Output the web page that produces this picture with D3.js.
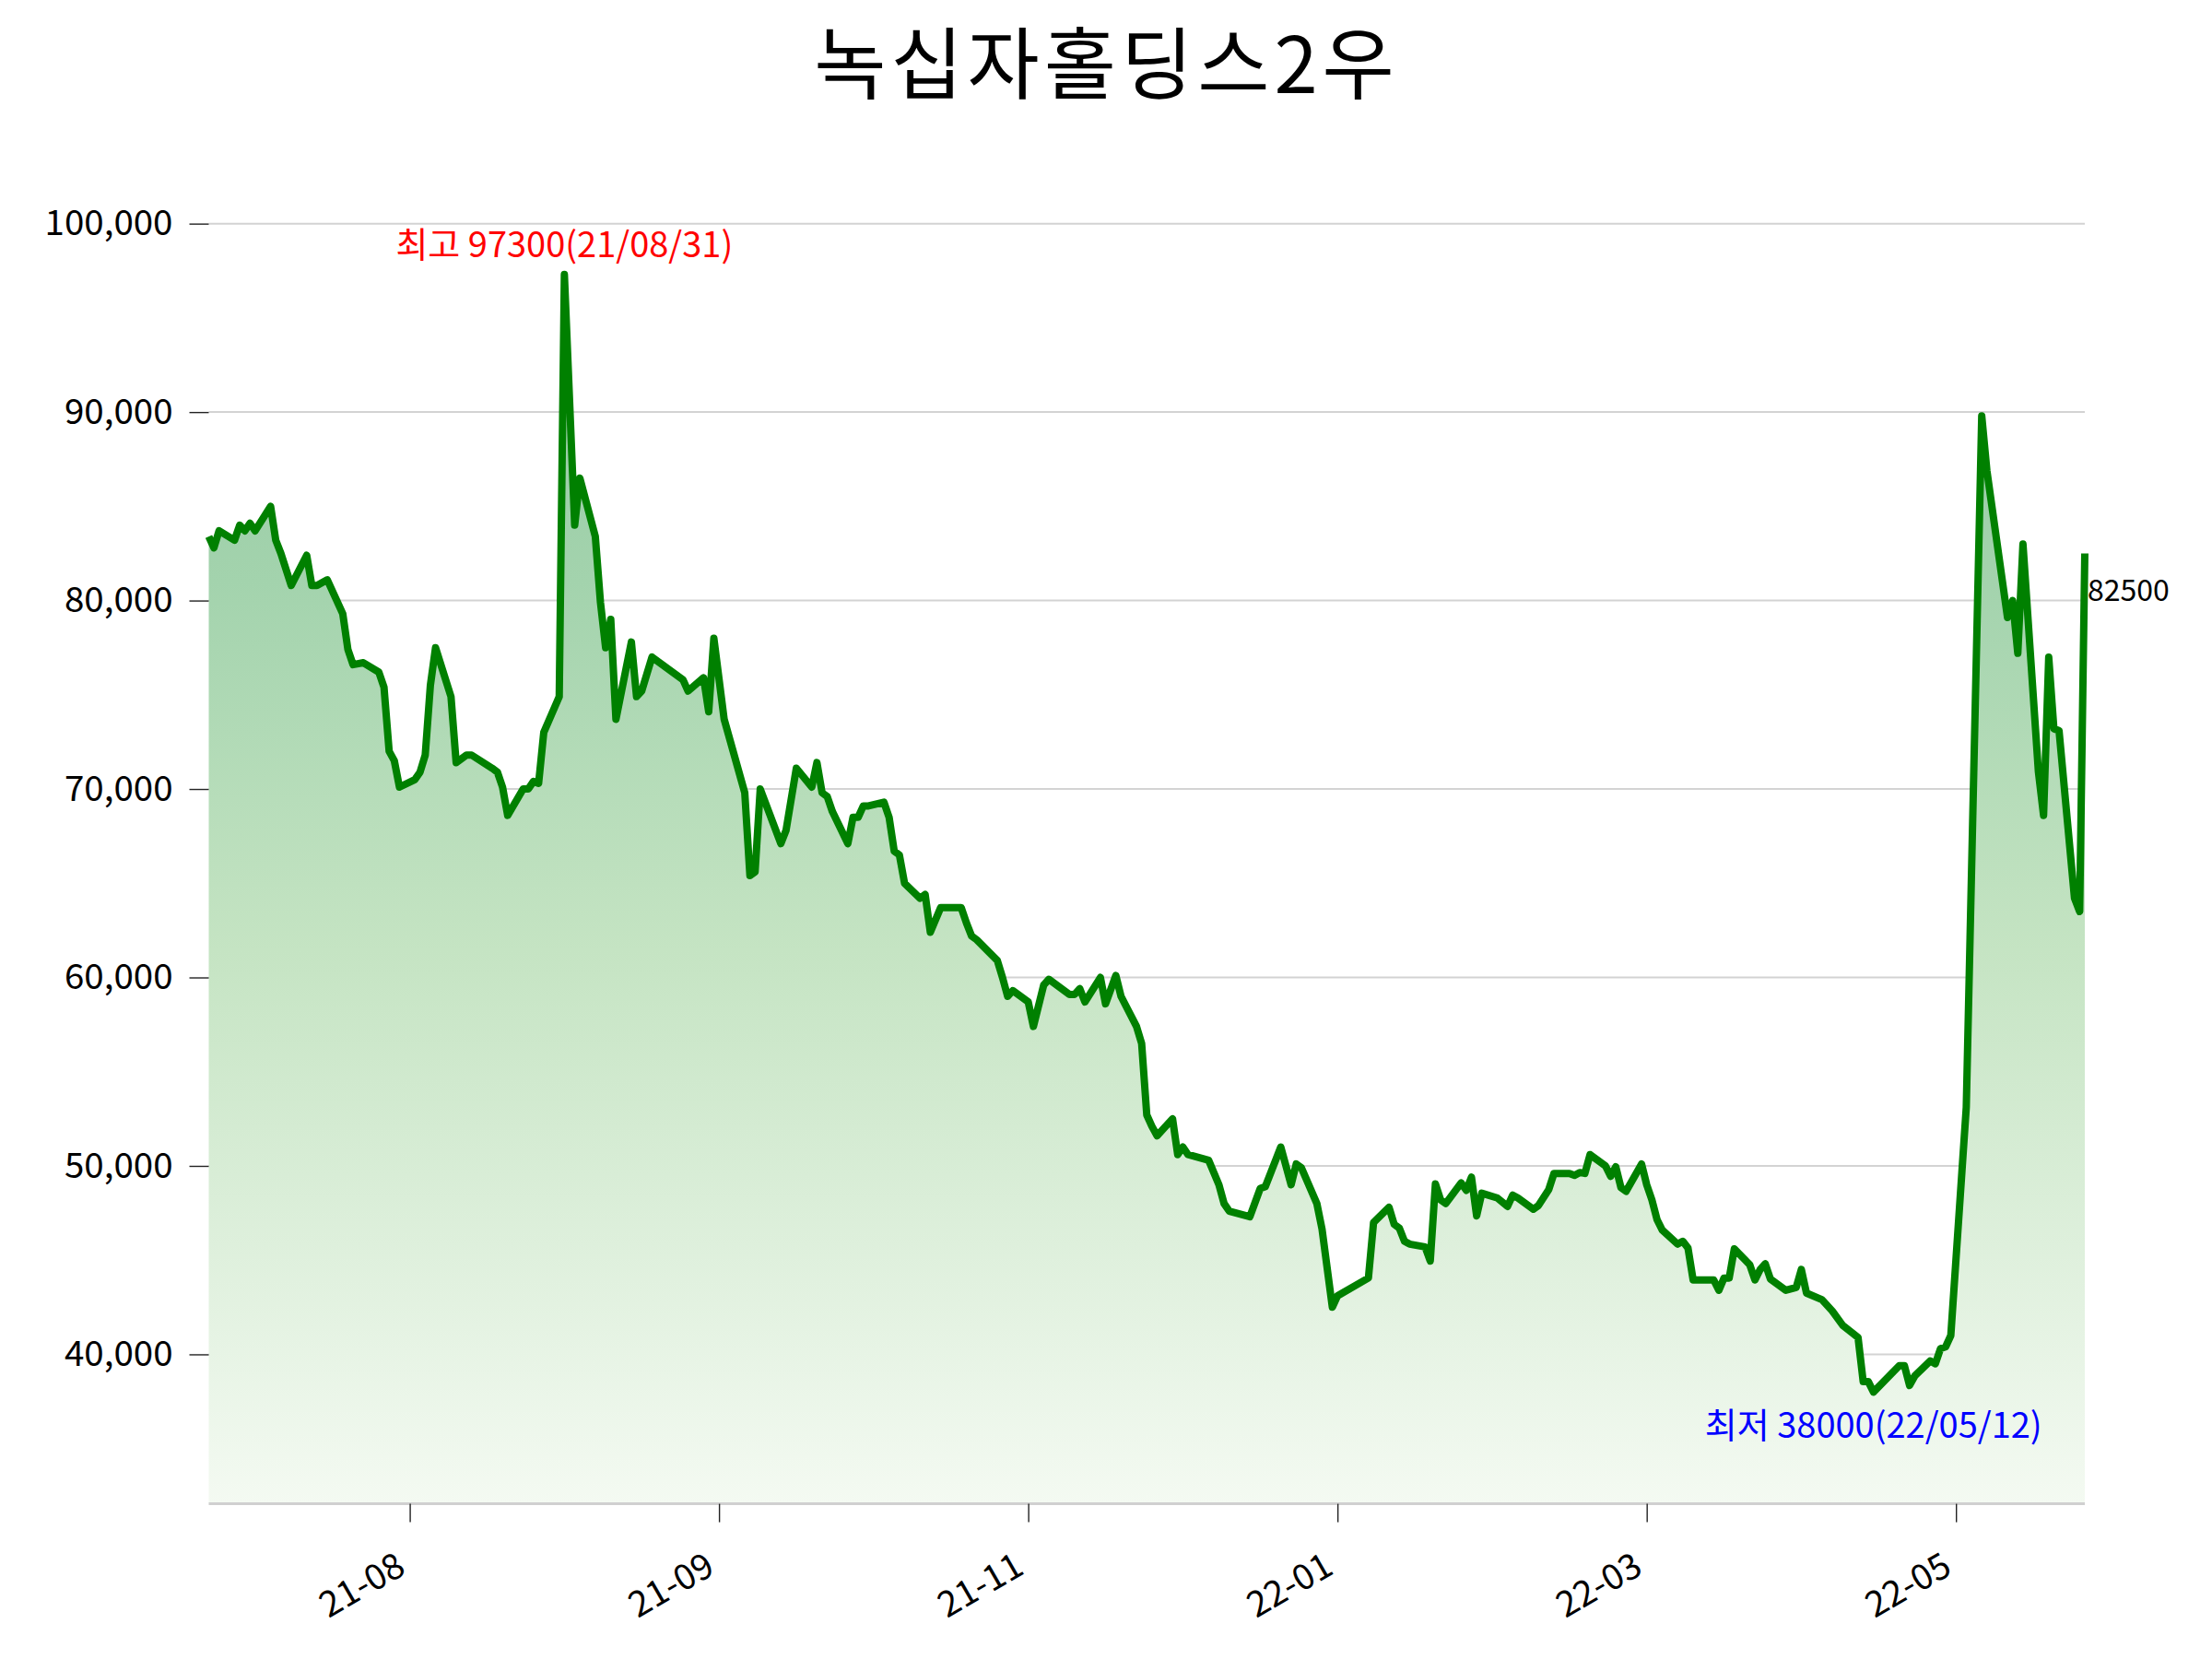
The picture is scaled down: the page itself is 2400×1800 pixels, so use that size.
<!DOCTYPE html>
<html>
<head>
<meta charset="utf-8">
<script src="https://cdn.jsdelivr.net/npm/d3@7"></script>
<style>
  html, body { margin: 0; padding: 0; background: #fff; }
  svg { display: block; }
  text { font-family: "Noto Sans CJK KR", "Noto Sans", sans-serif; }
</style>
</head>
<body>
<svg id="chart" width="2400" height="1800"></svg>
<script>
const title = "녹십자홀딩스2우";

const dates = [
"2021-06-23","2021-06-24","2021-06-25","2021-06-28","2021-06-29","2021-06-30","2021-07-01","2021-07-02",
"2021-07-05","2021-07-06","2021-07-07","2021-07-09","2021-07-12","2021-07-13","2021-07-14","2021-07-16",
"2021-07-19","2021-07-20","2021-07-21","2021-07-23","2021-07-26","2021-07-27","2021-07-28","2021-07-29","2021-07-30",
"2021-08-02","2021-08-03","2021-08-04","2021-08-05","2021-08-06","2021-08-09","2021-08-10","2021-08-12","2021-08-13",
"2021-08-17","2021-08-18","2021-08-19","2021-08-20","2021-08-23","2021-08-24","2021-08-25","2021-08-26","2021-08-27",
"2021-08-30","2021-08-31","2021-09-02","2021-09-03","2021-09-06","2021-09-07","2021-09-08","2021-09-09","2021-09-10",
"2021-09-13","2021-09-14","2021-09-15","2021-09-17","2021-09-23","2021-09-24","2021-09-27","2021-09-28","2021-09-29",
"2021-10-01","2021-10-05","2021-10-06","2021-10-07","2021-10-08","2021-10-12","2021-10-13","2021-10-15",
"2021-10-18","2021-10-19","2021-10-20","2021-10-21","2021-10-22","2021-10-25","2021-10-26","2021-10-27","2021-10-28","2021-10-29",
"2021-11-01","2021-11-02","2021-11-03","2021-11-04","2021-11-05","2021-11-08","2021-11-09","2021-11-10","2021-11-12",
"2021-11-16","2021-11-17","2021-11-18","2021-11-19","2021-11-23","2021-11-24","2021-11-25","2021-11-26","2021-11-29","2021-11-30",
"2021-12-02","2021-12-03","2021-12-07","2021-12-08","2021-12-09","2021-12-10","2021-12-13","2021-12-14","2021-12-16","2021-12-17",
"2021-12-20","2021-12-21","2021-12-22","2021-12-23","2021-12-24","2021-12-27","2021-12-28","2021-12-29","2021-12-30",
"2022-01-03","2022-01-05","2022-01-06","2022-01-07","2022-01-11","2022-01-13","2022-01-14","2022-01-17","2022-01-19",
"2022-01-20","2022-01-21","2022-01-24","2022-01-25","2022-01-27","2022-01-28",
"2022-02-03","2022-02-04","2022-02-07","2022-02-08","2022-02-09","2022-02-10","2022-02-11","2022-02-14","2022-02-15",
"2022-02-16","2022-02-17","2022-02-18","2022-02-21","2022-02-22","2022-02-23","2022-02-24","2022-02-25","2022-02-28",
"2022-03-02","2022-03-03","2022-03-04","2022-03-07","2022-03-08","2022-03-10","2022-03-11","2022-03-14","2022-03-15",
"2022-03-16","2022-03-17","2022-03-18","2022-03-21","2022-03-22","2022-03-23","2022-03-24","2022-03-25","2022-03-28",
"2022-03-29","2022-03-30","2022-03-31","2022-04-01","2022-04-04","2022-04-05","2022-04-06","2022-04-07","2022-04-08",
"2022-04-11","2022-04-12","2022-04-13","2022-04-14","2022-04-15","2022-04-18","2022-04-19","2022-04-20","2022-04-21","2022-04-22",
"2022-04-25","2022-04-27","2022-04-28","2022-04-29","2022-05-02","2022-05-04","2022-05-06","2022-05-09","2022-05-10",
"2022-05-11","2022-05-12","2022-05-17","2022-05-18","2022-05-19","2022-05-20","2022-05-23","2022-05-24","2022-05-25",
"2022-05-26","2022-05-27","2022-05-30","2022-06-02","2022-06-03","2022-06-07","2022-06-08","2022-06-09","2022-06-10",
"2022-06-13","2022-06-14","2022-06-15","2022-06-16","2022-06-17","2022-06-20","2022-06-21","2022-06-22"
];

const values = [
83400,82800,83700,83200,84000,83700,84100,83700,
85000,83200,82500,80800,82400,80800,80800,81100,
79300,77400,76600,76700,76200,75400,72000,71500,70100,
70500,70900,71800,75500,77500,74900,71400,71800,71800,
71100,70900,70100,68600,70000,70000,70400,70300,73000,
74900,97300,84000,86500,83400,79900,77500,79000,73700,
77800,74900,75200,77000,75800,75200,75900,74100,78000,
73700,69800,65400,65600,70000,67100,67800,71100,
70100,71400,69800,69600,68800,67100,68500,68500,69100,69100,
69300,68500,66700,66500,65000,64200,64400,62400,63700,
63700,62900,62200,62000,60900,60000,59000,59300,58700,57400,
59600,59900,59100,59100,59400,58700,60000,58600,60100,59000,
57400,56500,52700,52100,51600,52500,50600,51000,50600,
50300,49000,48000,47600,47300,48800,48900,51000,49000,
50100,49900,48000,46650,42500,43100,
44050,47000,47800,46900,46700,46000,45850,45700,44950,
49050,48200,48000,49100,48700,49400,47350,48550,48300,
47850,48450,48300,47700,47900,48750,49600,49600,49500,
49650,49600,50600,50000,49450,49950,48850,48650,50100,
49000,48200,47150,46600,45850,46000,45650,43950,43950,
43950,43400,44050,44050,45600,44750,43950,44500,44800,44000,
43400,43550,44500,43250,42900,42300,41550,40900,38550,
38550,38000,39400,39400,38350,38850,39650,39500,40300,
40400,41000,53100,89800,86900,79100,80000,77200,83000,
70900,68600,77000,73200,73100,64200,63500,82500
];

const yTickValues = [40000, 50000, 60000, 70000, 80000, 90000, 100000];
const xTickDates = ["2021-08-01","2021-09-30","2021-11-29","2022-01-28","2022-03-29","2022-05-28"];

const parse = d3.utcParse("%Y-%m-%d");
const data = dates.map((d, i) => ({ date: parse(d), value: values[i] }));

const svg = d3.select("#chart");
svg.append("rect").attr("width", 2400).attr("height", 1800).attr("fill", "#fff");

const plotL = 226.5, plotR = 2262, plotB = 1631.6, plotT = 176.6;

const vMin = d3.min(values), vMax = d3.max(values);
const pad = (vMax - vMin) * 0.1;
const y = d3.scaleLinear().domain([vMin - pad, vMax + pad]).range([plotB, plotT]);
const x = d3.scaleUtc().domain(d3.extent(data, d => d.date)).range([plotL, plotR]);

// gradient
const defs = svg.append("defs");
const grad = defs.append("linearGradient")
  .attr("id", "fillGrad")
  .attr("gradientUnits", "userSpaceOnUse")
  .attr("x1", 0).attr("x2", 0)
  .attr("y1", y(vMax)).attr("y2", plotB);
grad.append("stop").attr("offset", "0%").attr("stop-color", "#94c8a2");
grad.append("stop").attr("offset", "25%").attr("stop-color", "#a3d3ad");
grad.append("stop").attr("offset", "55%").attr("stop-color", "#c5e4c3");
grad.append("stop").attr("offset", "100%").attr("stop-color", "#f4faf2");

// gridlines
svg.append("g").selectAll("line")
  .data(yTickValues)
  .join("line")
  .attr("x1", plotL).attr("x2", plotR)
  .attr("y1", d => y(d)).attr("y2", d => y(d))
  .attr("stroke", "#d3d3d3")
  .attr("stroke-width", 2);

// area
const area = d3.area()
  .x(d => x(d.date))
  .y0(plotB)
  .y1(d => y(d.value));
svg.append("path")
  .datum(data)
  .attr("d", area)
  .attr("fill", "url(#fillGrad)");

// line
const line = d3.line()
  .x(d => x(d.date))
  .y(d => y(d.value));
svg.append("path")
  .datum(data)
  .attr("d", line)
  .attr("fill", "none")
  .attr("stroke", "#008000")
  .attr("stroke-width", 8)
  .attr("stroke-linejoin", "round")
  .attr("stroke-linecap", "butt");

// y axis
const yAxis = svg.append("g")
  .attr("transform", `translate(${plotL},0)`)
  .call(d3.axisLeft(y).tickValues(yTickValues).tickFormat(d3.format(",")).tickSize(21).tickPadding(18).tickSizeOuter(0));
yAxis.select(".domain").remove();
yAxis.selectAll(".tick line").attr("stroke", "#222").attr("stroke-width", 1.4);
yAxis.selectAll(".tick text").attr("font-size", 38.5).attr("fill", "#000")
  .style("font-family", '"Noto Sans CJK KR", "Noto Sans", sans-serif');

// x axis
const xAxis = svg.append("g")
  .attr("transform", `translate(0,${plotB})`)
  .call(d3.axisBottom(x).tickValues(xTickDates.map(parse)).tickFormat(d3.utcFormat("%y-%m")).tickSize(20).tickSizeOuter(0));
xAxis.select(".domain").attr("stroke", "#d0d0d0").attr("stroke-width", 3)
  .attr("d", `M${plotL},0H${plotR}`);
xAxis.selectAll(".tick line").attr("stroke", "#222").attr("stroke-width", 1.4);
xAxis.selectAll(".tick text")
  .attr("font-size", 38.5).attr("fill", "#000")
  .style("font-family", '"Noto Sans CJK KR", "Noto Sans", sans-serif')
  .attr("x", 0).attr("y", 0).attr("dy", null)
  .attr("text-anchor", "end")
  .attr("transform", "translate(-3,75) rotate(-30)");

// title
svg.append("text")
  .attr("x", 1198 + 2.5).attr("y", 101)
  .attr("text-anchor", "middle")
  .attr("font-size", 85)
  .attr("letter-spacing", 5)
  .attr("fill", "#000")
  .text(title);

// annotations
const fmtD = d3.utcFormat("%y/%m/%d");
const maxPt = data.find(d => d.value === vMax);
const minPt = data.find(d => d.value === vMin);
const lastPt = data[data.length - 1];

svg.append("text")
  .attr("x", x(maxPt.date)).attr("y", y(maxPt.value) - 19)
  .attr("text-anchor", "middle")
  .attr("font-size", 38)
  .attr("fill", "#ff0000")
  .text(`최고 ${maxPt.value}(${fmtD(maxPt.date)})`);

svg.append("text")
  .attr("x", x(minPt.date)).attr("y", y(minPt.value) + 50)
  .attr("text-anchor", "middle")
  .attr("font-size", 38)
  .attr("fill", "#0000ff")
  .text(`최저 ${minPt.value}(${fmtD(minPt.date)})`);

svg.append("text")
  .attr("x", x(lastPt.date) + 3).attr("y", y(lastPt.value) + 52)
  .attr("text-anchor", "start")
  .attr("font-size", 32)
  .attr("fill", "#000")
  .text(`${lastPt.value}`);
</script>
</body>
</html>
